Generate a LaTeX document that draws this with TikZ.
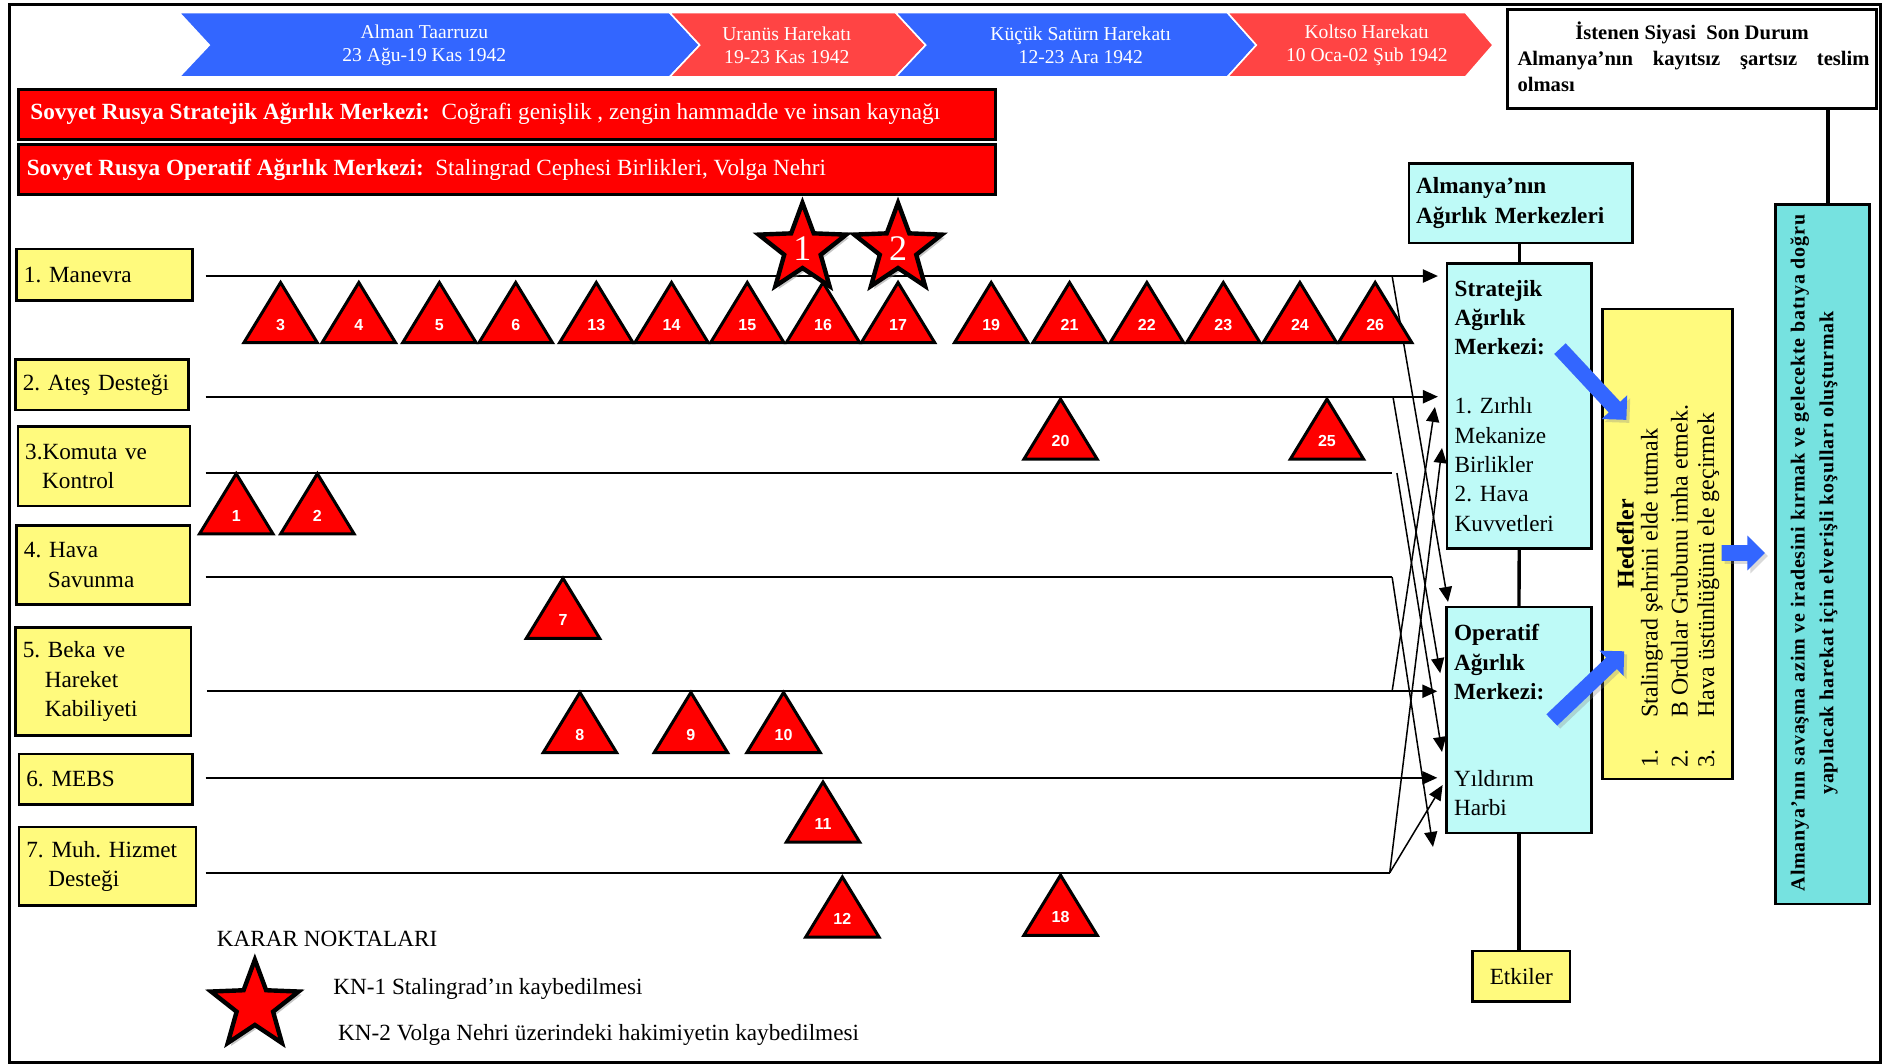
\documentclass[tikz,border=0pt]{standalone}
\usepackage{fontspec}
\setmainfont{Liberation Serif}
\newfontfamily\numfont{Liberation Sans}
\newfontfamily\widefont[LetterSpace=4]{Liberation Serif}
\usetikzlibrary{arrows.meta,shapes.geometric,shadows}
\definecolor{chevblue}{RGB}{51,102,255}
\definecolor{chevred}{RGB}{255,68,68}
\definecolor{boxred}{RGB}{255,0,0}
\definecolor{yel}{RGB}{255,250,125}
\definecolor{lcyan}{RGB}{190,250,247}
\definecolor{dcyan}{RGB}{118,226,224}
\definecolor{fatblue}{RGB}{51,102,255}
\frenchspacing
\newcommand\fs[2]{\fontsize{#1pt}{#2pt}\selectfont}
\newcommand\tri[4]{%
  \filldraw[trishape] (#2-30.5,#3+50) -- (#2,#3) -- (#2+30.5,#3+50) -- cycle;
  \node[trinum] (#1) at (#2,#3+35) {#4};}
\newcommand\fatarrow[4]{%
  \begin{scope}[shift={(#1,#2)},rotate=#3]
    \fill[fatarr] (0,-6.5) -- (#4-14.5,-6.5) -- (#4-14.5,-14.5) -- (#4,0) -- (#4-14.5,14.5) -- (#4-14.5,6.5) -- (0,6.5) -- cycle;
  \end{scope}}
\begin{document}
\frenchspacing
\begin{tikzpicture}[x=0.6011pt,y=-0.6011pt,
 lbox/.style={draw=black,fill=yel,line width=1.3pt,inner xsep=3.6pt,inner ysep=0pt,align=left,font=\fs{11.6}{14.7}},
 cbox/.style={draw=black,fill=lcyan,line width=1.3pt,inner xsep=3.6pt,inner ysep=0pt,align=left,font=\fs{11.6}{14.7}},
 redbox/.style={draw=black,fill=boxred,line width=1.5pt,inner sep=0pt,minimum width=488.7pt,minimum height=25.2pt},
 redtext/.style={text=white,inner sep=0pt,anchor=west,font=\fs{11.6}{14}},
 chev/.style={draw=white,line width=0.8pt},
 chevtext/.style={text=white,align=center,font=\fs{9.8}{11.6},inner sep=0pt},
 trishape/.style={fill=boxred,draw=black,line width=1.5pt},
 trinum/.style={text=white,font=\numfont\bfseries\fs{8}{8},inner sep=0pt},
 kstar/.style={star,star points=5,star point ratio=2.4,minimum size=46pt,inner sep=0pt,fill=boxred,draw=black,line width=2.2pt,text=white,font=\fs{18}{18},drop shadow={opacity=0.45,shadow xshift=1.5pt,shadow yshift=-1.5pt}},
 hline/.style={line width=1.1pt},
 dline/.style={line width=0.75pt},
 arr/.style={-{Triangle[length=7.5pt,width=6.5pt]}},
 vconn/.style={line width=1.7pt},
 fatarr/.style={fill=fatblue,drop shadow={opacity=0.3,shadow xshift=1.5pt,shadow yshift=-1.5pt}},
 plain/.style={inner sep=0pt,font=\fs{11.6}{14}}
]
\useasboundingbox (0,0) rectangle (1568,885);
\draw[line width=1.5pt] (7.5,3.8) rectangle (1564,883.5);

% chevrons
\filldraw[chev,fill=chevblue] (149,10.5) -- (557,10.5) -- (582,37.5) -- (557,64) -- (149,64) -- (174,37.5) -- cycle;
\filldraw[chev,fill=chevred] (557,10.5) -- (745,10.5) -- (770,37.5) -- (745,64) -- (557,64) -- (582,37.5) -- cycle;
\filldraw[chev,fill=chevblue] (745,10.5) -- (1021,10.5) -- (1045,37.5) -- (1021,64) -- (745,64) -- (770,37.5) -- cycle;
\filldraw[chev,fill=chevred] (1021,10.5) -- (1219,10.5) -- (1242,37.5) -- (1219,64) -- (1021,64) -- (1045,37.5) -- cycle;
\node[chevtext] (c1) at (353,37.5) {Alman Taarruzu\\23 Ağu-19 Kas 1942};
\node[chevtext] (c2) at (654.5,37.5) {Uranüs Harekatı\\19-23 Kas 1942};
\node[chevtext] (c3) at (899,37.5) {Küçük Satürn Harekatı\\12-23 Ara 1942};
\node[chevtext] (c4) at (1137,37.5) {Koltso Harekatı\\10 Oca-02 Şub 1942};

% goal box
\node[draw=black,line width=1.3pt,fill=white,minimum width=184.5pt,minimum height=49.3pt,inner sep=0pt] (goal) at (1407.5,49) {};
\node[inner sep=0pt,font=\bfseries\fs{10.3}{12}] (gt1) at (1407.5,27) {İstenen Siyasi\ \ Son Durum};
\node[inner sep=0pt,font=\bfseries\fs{10.3}{12},anchor=west] (gt2) at (1262,50) {\makebox[176pt][s]{Almanya’nın kayıtsız şartsız teslim}};
\node[inner sep=0pt,font=\bfseries\fs{10.3}{12},anchor=west] (gt3) at (1262,70) {olması};

% red boxes
\node[redbox] (rb1) at (421.5,95) {};
\node[redtext] (rt1) at (25,95) {\textbf{Sovyet Rusya Stratejik Ağırlık Merkezi:}\ \ Coğrafi genişlik , zengin hammadde ve insan kaynağı};
\node[redbox] (rb2) at (421.5,141) {};
\node[redtext] (rt2) at (22,141) {\textbf{Sovyet Rusya Operatif Ağırlık Merkezi:}\ \ Stalingrad Cephesi Birlikleri, Volga Nehri};

% left boxes
\node[lbox,minimum width=87.8pt,minimum height=25.8pt,text width=80.6pt] (b1) at (87,228.5) {1. Manevra};
\node[lbox,minimum width=86.6pt,minimum height=25.2pt,text width=79.4pt] (b2) at (85,320) {2. Ateş Desteği};
\node[lbox,minimum width=86pt,minimum height=39.7pt,text width=78.8pt] (b3) at (86.5,388) {3.Komuta ve\\\hspace*{8.5pt}Kontrol};
\node[lbox,minimum width=86.6pt,minimum height=39.7pt,text width=79.4pt] (b4) at (86,470) {4. Hava\\\hspace*{12pt}Savunma};
\node[lbox,minimum width=87.8pt,minimum height=54.1pt,text width=80.6pt] (b5) at (86,567) {5. Beka ve\\\hspace*{11pt}Hareket\\\hspace*{11pt}Kabiliyeti};
\node[lbox,minimum width=86.6pt,minimum height=25.2pt,text width=79.4pt] (b6) at (88,648) {6. MEBS};
\node[lbox,minimum width=88.4pt,minimum height=39.1pt,text width=81.2pt] (b7) at (89.5,720.5) {7. Muh. Hizmet\\\hspace*{11pt}Desteği};

% right cyan boxes
\node[cbox,minimum width=111.8pt,minimum height=39.7pt,text width=104.6pt,font=\bfseries\fs{11.6}{14.7}] (merk) at (1265,169) {Almanya’nın\\Ağırlık Merkezleri};
\node[cbox,minimum width=72.4pt,minimum height=142.5pt,text width=64.6pt,inner xsep=3.9pt] (strat) at (1263.75,337.5) {\textbf{Stratejik}\\\textbf{Ağırlık}\\\textbf{Merkezi:}\\[14.7pt]1. Zırhlı\\Mekanize\\Birlikler\\2. Hava\\Kuvvetleri};
\node[cbox,minimum width=72.7pt,minimum height=113pt,text width=64.9pt,inner xsep=3.9pt] (oper) at (1263.5,599) {\textbf{Operatif}\\\textbf{Ağırlık}\\\textbf{Merkezi:}\\[28.5pt]Yıldırım\\Harbi};
\node[draw=black,fill=yel,line width=1.3pt,minimum width=48.7pt,minimum height=25.2pt,inner sep=0pt,font=\fs{11.6}{14}] (etk) at (1265.5,812) {Etkiler};
\draw[vconn] (merk.south -| strat.north) -- (strat.north);
\draw[vconn] (strat.south) -- (oper.north);
\draw[vconn] (oper.south) -- (oper.south |- etk.north);

% Hedefler
\node[draw=black,line width=1.3pt,fill=yel,minimum width=64.9pt,minimum height=235pt,inner sep=0pt] (hed) at (1387,452.5) {};
\node[rotate=90,inner sep=0pt,font=\bfseries\fs{12}{14}] (hh) at (1352,452.5) {Hedefler};
\node[rotate=90,anchor=west,inner sep=0pt,font=\fs{12}{14}] (h1) at (1374,639) {\makebox[25.2pt][l]{1.}Stalingrad şehrini elde tutmak};
\node[rotate=90,anchor=west,inner sep=0pt,font=\fs{12}{14}] (h2) at (1397,639) {\makebox[25.2pt][l]{2.}B Ordular Grubunu imha etmek.};
\node[rotate=90,anchor=west,inner sep=0pt,font=\fs{12}{14}] (h3) at (1421,639) {\makebox[25.2pt][l]{3.}Hava üstünlüğünü ele geçirmek};

% right dark cyan box
\node[draw=black,line width=1.3pt,fill=dcyan,minimum width=46.9pt,minimum height=349.8pt,inner sep=0pt] (rbox) at (1516,461) {};
\node[rotate=90,align=center,inner sep=0pt,font=\widefont\bfseries\fs{10}{14.4}] (rbt) at (1509,460) {Almanya’nın savaşma azim ve iradesini kırmak ve gelecekte batıya doğru\\yapılacak harekat için elverişli koşulları oluşturmak};
\draw[vconn] ([xshift=2.8pt]rbox.north) -- ([xshift=2.8pt]rbox.north |- goal.south);

% fat arrows
\fatarrow{1297.6}{290}{-47}{81}
\fatarrow{1290.8}{598.9}{43.5}{83}
\fatarrow{1432}{460}{0}{36}

% lines
\coordinate (s1) at (171,229.6); \coordinate (j1) at (1158,229.6);
\coordinate (s2) at (171,330);   \coordinate (j2) at (1158.7,330);
\coordinate (s3) at (171,393.5); \coordinate (j3) at (1158,393.5); \coordinate (k3) at (1162,393.5);
\coordinate (s4) at (171,480);   \coordinate (j4) at (1158,480);
\coordinate (s5) at (172,575);   \coordinate (j5) at (1158,575);
\coordinate (s6) at (171,647);
\coordinate (s7) at (171,726);   \coordinate (j7) at (1156,726);
\coordinate (d1) at (1204.5,500.7);
\coordinate (d2) at (1198,560);
\coordinate (d3) at (1199.5,625.5);
\coordinate (d4) at (1192,704.5);
\coordinate (u5) at (1193.6,338.5);
\coordinate (u7) at (1199.5,372.6);
\coordinate (u7b) at (1200,653);

\draw[hline,arr,shorten >=3.8pt] (s1) -- (s1 -| strat.west);
\draw[hline,arr,shorten >=3.8pt] (s2) -- (s2 -| strat.west);
\draw[hline] (s3) -- (j3);
\draw[hline] (s4) -- (j4);
\draw[hline,arr,shorten >=3.8pt] (s5) -- (s5 -| oper.west);
\draw[hline,arr,shorten >=3.8pt] (s6) -- (s6 -| oper.west);
\draw[hline] (s7) -- (j7);

\draw[dline,arr] (j1) -- (d1);
\draw[dline,arr] (j2) -- (d2);
\draw[dline,arr] (k3) -- (d3);
\draw[dline,arr] (j4) -- (d4);
\draw[dline,arr] (j5) -- (u5);
\draw[dline,arr] (j7) -- (u7);
\draw[dline,arr] (j7) -- (u7b);

% triangles
\tri{t3}{233.4}{235}{3}
\tri{t4}{298.5}{235}{4}
\tri{t5}{365.5}{235}{5}
\tri{t6}{429}{235}{6}
\tri{t13}{496}{235}{13}
\tri{t14}{558.6}{235}{14}
\tri{t15}{621.6}{235}{15}
\tri{t16}{684.6}{235}{16}
\tri{t17}{747}{235}{17}
\tri{t19}{824.5}{235}{19}
\tri{t21}{889.7}{235}{21}
\tri{t22}{954}{235}{22}
\tri{t23}{1017.6}{235}{23}
\tri{t24}{1081.3}{235}{24}
\tri{t26}{1143.9}{235}{26}
\tri{t20}{882.2}{332}{20}
\tri{t25}{1103.8}{332}{25}
\tri{t1}{196.5}{394}{1}
\tri{t2}{264}{394}{2}
\tri{t7}{468.3}{481}{7}
\tri{t8}{482.4}{576}{8}
\tri{t9}{574.7}{576}{9}
\tri{t10}{651.8}{576}{10}
\tri{t11}{684.6}{650.5}{11}
\tri{t12}{700.7}{729.5}{12}
\tri{t18}{882.2}{728}{18}

% stars
\node[kstar] (st1) at (667.5,207) {1};
\node[kstar] (st2) at (747,207) {2};

% legend
\node[kstar] (lstar) at (212,836.6) {};
\node[plain,anchor=west] (kn) at (180,781) {KARAR NOKTALARI};
\node[plain,anchor=west] (kn1) at (277,823) {KN-1 Stalingrad’ın kaybedilmesi};
\node[plain,anchor=west] (kn2) at (281,861) {KN-2 Volga Nehri üzerindeki hakimiyetin kaybedilmesi};
\end{tikzpicture}
\end{document}
